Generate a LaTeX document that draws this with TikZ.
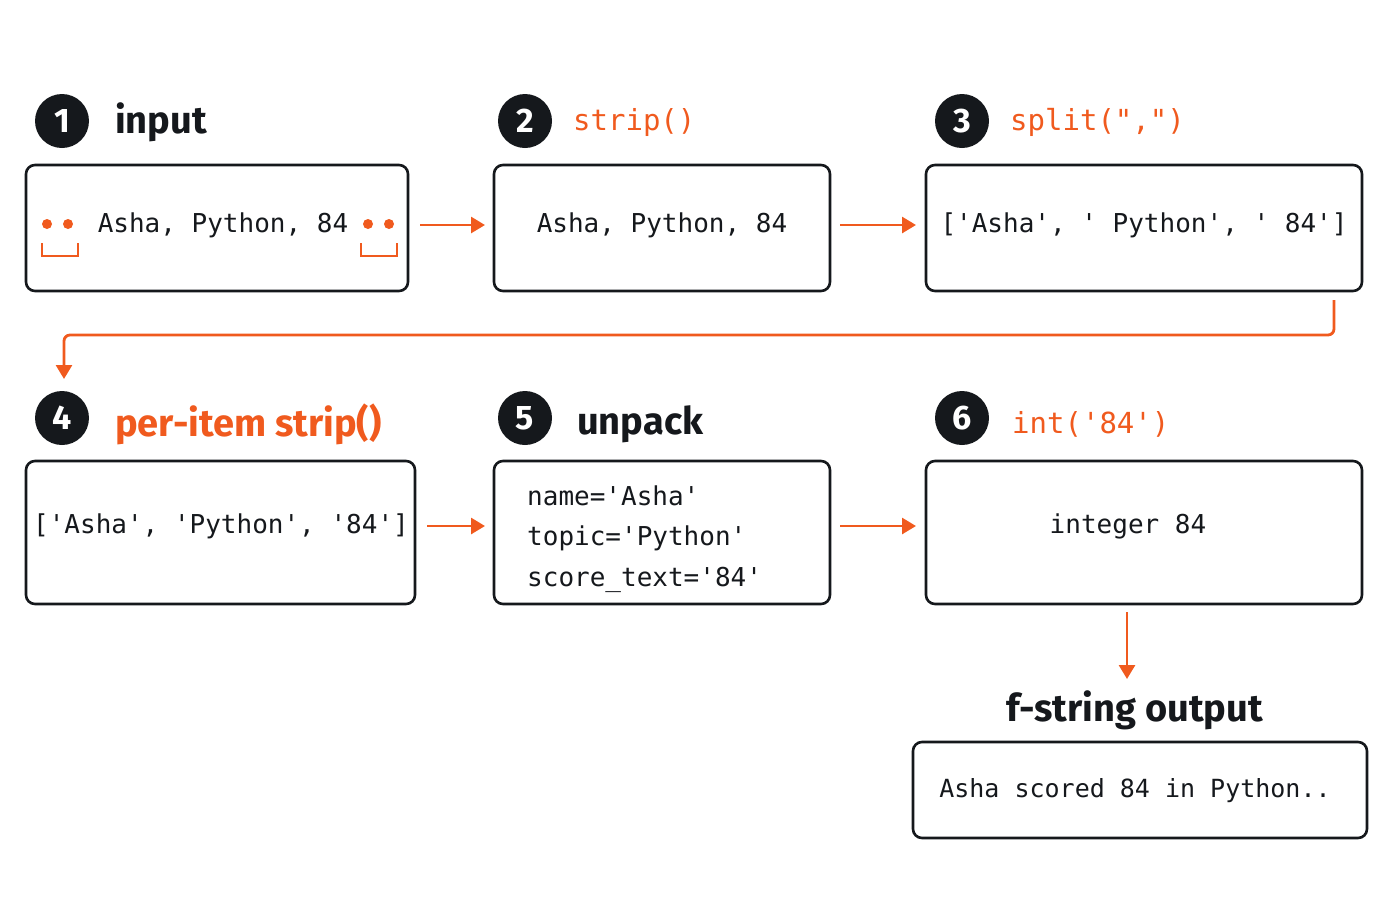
\documentclass[tikz,border=0pt]{standalone}
\usepackage{fontspec}
\setmainfont{Fira Sans}
\setmonofont{DejaVu Sans Mono}
\usetikzlibrary{arrows.meta}
\definecolor{org}{HTML}{F05A1E}
\definecolor{ink}{HTML}{15181C}
\tikzset{
  box/.style={draw=ink,line width=2.6pt,rounded corners=9pt},
  num/.style={circle,fill=ink,minimum size=54pt,inner sep=0pt,text=white,font=\fontsize{34}{34}\selectfont\bfseries},
  head/.style={anchor=west,inner sep=0pt,font=\fontsize{38}{38}\selectfont\bfseries,text=ink},
  ohead/.style={anchor=west,inner sep=0pt,font=\fontsize{29}{29}\selectfont\ttfamily,text=org},
  code/.style={inner sep=0pt,font=\fontsize{26}{26}\selectfont\ttfamily,text=ink},
  flow/.style={draw=org,line width=2.8pt,-{Triangle[length=14pt,width=16pt]}},
}
\begin{document}
\begin{tikzpicture}[x=1pt,y=-1pt]
\useasboundingbox (0,0) rectangle (1400,900);
% boxes
\draw[box] (26,165) rectangle (408,291);
\draw[box] (494,165) rectangle (830,291);
\draw[box] (926,165) rectangle (1362,291);
\draw[box] (26,461) rectangle (415,604);
\draw[box] (494,461) rectangle (830,604);
\draw[box] (926,461) rectangle (1362,604);
\draw[box] (913,742) rectangle (1367,838);
\coordinate (b1e) at (408,225); \coordinate (b2w) at (494,225);
% circles & headings
\node[num] (n1) at (62,121) {1}; \node[head] (h1) at (115,122) {input};
\node[num] (n2) at (525,121) {2}; \node[ohead] (h2) at (573,122) {strip()};
\node[num] (n3) at (962,121) {3}; \node[ohead] (h3) at (1010,122) {split(",")};
\node[num] (n4) at (62,418) {4}; \node[head,text=org] (h4) at (115,424) {per-item strip()};
\node[num] (n5) at (525,418) {5}; \node[head] (h5) at (577,424) {unpack};
\node[num] (n6) at (962,418) {6}; \node[ohead] (h6) at (1012,424) {int('84')};
% box contents
\node[code] (t1) at (223,225) {Asha, Python, 84};
\fill[org] (47,224) circle (5pt) (68,224) circle (5pt) (368,224) circle (5pt) (389,224) circle (5pt);
\draw[org,line width=2.2pt] (42,243) -- (42,256) -- (78,256) -- (78,243);
\draw[org,line width=2.2pt] (361,243) -- (361,256) -- (397,256) -- (397,243);
\node[code] (t2) at (662,225) {Asha, Python, 84};
\node[code] (t3) at (1144,225) {['Asha', ' Python', ' 84']};
\node[code] (t4) at (221,526) {['Asha', 'Python', '84']};
\node[code,anchor=west] (t5a) at (527,496) {name='Asha'};
\node[code,anchor=west] (t5b) at (527,538) {topic='Python'};
\node[code,anchor=west] (t5c) at (527,580) {score\_text='84'};
\node[code] (t6) at (1128,526) {integer 84};
\node[head] (h7) at (1006,710) {f-string output};
\node[code,font=\fontsize{25}{25}\selectfont\ttfamily] (t7) at (1135,791) {Asha scored 84 in Python..};
% arrows
\coordinate (a1) at (420,225); \coordinate (a1e) at (485,225);
\coordinate (a2) at (840,225); \coordinate (a2e) at (916,225);
\coordinate (a3) at (427,526); \coordinate (a3e) at (485,526);
\coordinate (a4) at (840,526); \coordinate (a4e) at (916,526);
\coordinate (a5) at (1127,612); \coordinate (a5e) at (1127,679);
\coordinate (l0) at (1334,300); \coordinate (l3) at (64,379);
\draw[flow] (a1) -- (a1e);
\draw[flow] (a2) -- (a2e);
\draw[flow] (a3) -- (a3e);
\draw[flow] (a4) -- (a4e);
\draw[flow] (a5) -- (a5e);
\draw[flow,rounded corners=6pt] (l0) -- (1334,335) -- (64,335) -- (l3);
\end{tikzpicture}
\end{document}
